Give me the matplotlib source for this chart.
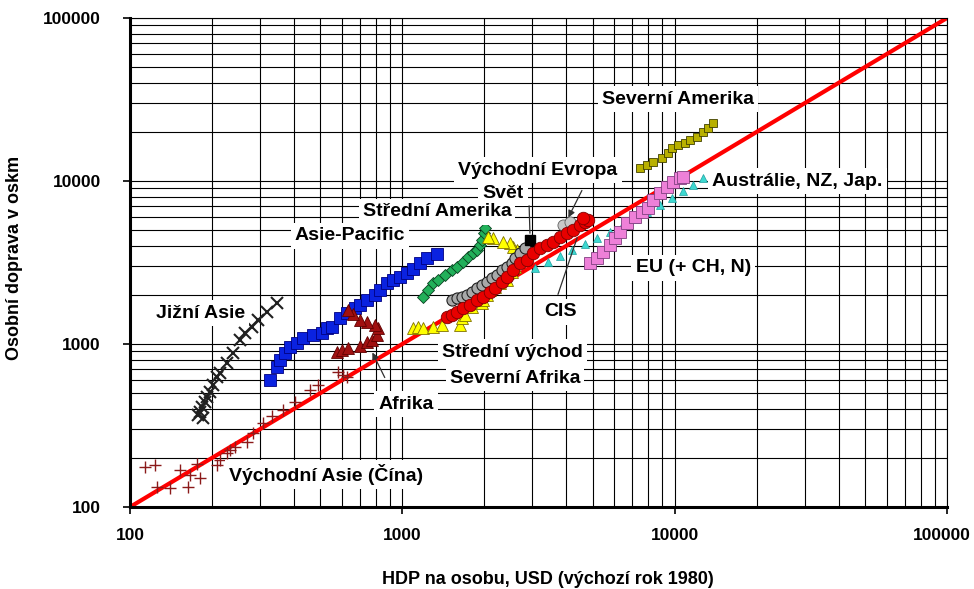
import matplotlib
matplotlib.use("Agg")
import matplotlib.pyplot as plt
import matplotlib.transforms as mtransforms
from matplotlib.ticker import LogLocator, NullFormatter

plt.rcParams['font.family'] = ['Liberation Sans', 'DejaVu Sans']
plt.rcParams['font.weight'] = 'bold'

# ---- data (GDP per capita USD, passenger-km per capita) ----
south_asia_x = [178, 185, 184, 192, 197, 202, 209, 214, 227, 239, 254, 264, 280, 295, 318, 346, 181, 188]
south_asia_y = [367, 352, 411, 473, 508, 560, 628, 664, 765, 881, 1059, 1168, 1271, 1403, 1572, 1786, 380, 440]

east_asia_x = [113.5, 123.5, 125.6, 140, 152.6, 163, 166, 176, 181, 209, 214, 227, 233, 243, 269, 283,
               308, 332, 365, 404, 458, 490, 580, 606, 626]
east_asia_y = [176, 181, 133, 131, 169, 133, 157, 184, 151, 181, 194, 214, 224, 233, 250, 284,
               328, 362, 394, 441, 522, 560, 673, 645, 628]

asia_pac_x = [327, 347, 356, 371, 387, 411, 432, 470, 507, 529, 552, 590, 626, 670, 699, 742, 794,
              828, 879, 924, 981, 1040, 1095, 1161, 1233, 1341]
asia_pac_y = [601, 722, 798, 881, 959, 1014, 1089, 1136, 1168, 1253, 1271, 1445, 1549, 1663, 1735,
              1862, 2000, 2144, 2366, 2471, 2577, 2729, 2884, 3141, 3373, 3565]

africa_x = [576, 601, 632, 699, 742, 774, 807, 814, 794, 742, 699, 659, 632]
africa_y = [893, 919, 945, 972, 1028, 1059, 1136, 1253, 1309, 1365, 1403, 1528, 1618]

central_am_x = [1191, 1243, 1297, 1352, 1435, 1523, 1588, 1671, 1742, 1820, 1880, 1928, 1963, 1995, 2014]
central_am_y = [1942, 2144, 2366, 2471, 2649, 2844, 2968, 3184, 3420, 3614, 3776, 4049, 4345, 4797, 5152]

mideast_x = [1095, 1142, 1191, 1297, 1400, 1629, 1656, 1698, 1803, 1963, 1977, 2046, 2099, 2188,
             2286, 2427, 2531, 2594, 2661, 2704, 2637, 2553, 2489, 2344, 2153, 2065]
mideast_y = [1253, 1271, 1253, 1271, 1309, 1309, 1445, 1507, 1687, 1786, 1862, 2000, 2144, 2239,
             2366, 2471, 2767, 2968, 3184, 3420, 3776, 3936, 4169, 4227, 4467, 4529]

world_x = [1523, 1588, 1656, 1729, 1803, 1880, 1963, 2046, 2133, 2228, 2323, 2427, 2531, 2594, 2704, 2825]
world_y = [1862, 1916, 1942, 2000, 2084, 2208, 2301, 2399, 2541, 2649, 2844, 2968, 3141, 3373, 3614, 3882]
world_last_x = [2944]
world_last_y = [4345]

cis_x = [1459, 1523, 1588, 1671, 1773, 1880, 1977, 2099, 2188, 2323, 2427, 2553, 2704, 2871, 3020,
         3206, 3396, 3573, 3793, 4027, 4236, 4498, 4688, 4808, 4613]
cis_y = [1465, 1507, 1572, 1663, 1735, 1862, 1942, 2084, 2208, 2399, 2577, 2844, 3141, 3273, 3614,
         3882, 4049, 4227, 4529, 4797, 5000, 5370, 5600, 5766, 5929]

east_eu_x = [3890, 4130]
east_eu_y = [5370, 5600]

aus_x = [3069, 3430, 3793, 4198, 4688, 5188, 5794, 6412, 7161, 7925, 8837, 9775, 10740, 11690, 12710]
aus_y = [2926, 3184, 3467, 3776, 4105, 4467, 4864, 5297, 5848, 6457, 7129, 7870, 8690, 9441, 10430]

eu_x = [4887, 5188, 5458, 5794, 6040, 6310, 6684, 7161, 7586, 7980, 8337, 8837, 9376, 9863, 10470, 10740]
eu_y = [3141, 3373, 3664, 4049, 4467, 4864, 5524, 6013, 6457, 6823, 7638, 8433, 9183, 9863, 10430, 10590]

north_am_x = [7464, 7925, 8337, 8990, 9462, 9775, 10300, 10920, 11400, 12080, 12710, 13270, 13840]
north_am_y = [12020, 12530, 13090, 13840, 14860, 15920, 16630, 17100, 17860, 18620, 20000, 21150, 22700]

parity_x = [100, 100000]
parity_y = [100, 100000]

tick_values = [100, 1000, 10000, 100000]
tick_labels = ["100", "1000", "10000", "100000"]

# ---- figure ----
fig = plt.figure(figsize=(9.74, 5.89), dpi=100)
ax = fig.add_axes([130/974, 1-507/589, 817/974, 489/589])
ax.set_xscale('log')
ax.set_yscale('log')
ax.set_xlim(100, 100000)
ax.set_ylim(100, 100000)

ax.xaxis.set_minor_locator(LogLocator(base=10, subs=range(2, 10), numticks=50))
ax.yaxis.set_minor_locator(LogLocator(base=10, subs=range(2, 10), numticks=50))
ax.xaxis.set_minor_formatter(NullFormatter())
ax.yaxis.set_minor_formatter(NullFormatter())
ax.set_xticks(tick_values)
ax.set_yticks(tick_values)
ax.set_xticklabels(tick_labels)
ax.set_yticklabels(tick_labels)
ax.grid(True, which='both', color='black', linewidth=0.8, zorder=0)
ax.set_axisbelow(True)
ax.tick_params(which='major', direction='out', length=5, width=1.2, labelsize=12.5)
ax.tick_params(axis='y', which='major', pad=16)
ax.tick_params(axis='x', which='major', pad=10)
ax.tick_params(which='minor', length=0)
for lab in ax.get_xticklabels() + ax.get_yticklabels():
    lab.set_fontweight('bold')
# nudge last x tick label inward so it stays within the canvas
last = ax.get_xticklabels()[-1]
last.set_transform(last.get_transform() + mtransforms.ScaledTranslation(-5/100, 0, fig.dpi_scale_trans))
for s in ['left', 'bottom']:
    ax.spines[s].set_linewidth(2.2)
for s in ['top', 'right']:
    ax.spines[s].set_linewidth(0.8)

ms = dict(linestyle='none', zorder=3)
ax.plot(east_asia_x, east_asia_y, marker='+', color='#8B1A1A', markersize=8, mew=1.0, **ms)
ax.plot(south_asia_x, south_asia_y, marker='x', color='#202020', markersize=8, mew=1.5, **ms)
ax.plot(asia_pac_x, asia_pac_y, marker='s', mfc='#0a22e0', mec='#000080', markersize=8, mew=0.6, **ms)
ax.plot(africa_x, africa_y, marker='^', mfc='#A01010', mec='#600000', markersize=9, mew=0.6, **ms)
ax.plot(central_am_x, central_am_y, marker='D', mfc='#22B05A', mec='#0a4020', markersize=6, mew=0.6, **ms)
ax.plot(mideast_x, mideast_y, marker='^', mfc='#FFFF00', mec='#807000', markersize=8, mew=0.6, **ms)
ax.plot(world_x, world_y, marker='o', mfc='#A8A8A8', mec='#202020', markersize=8, mew=0.8, **ms)
ax.plot(world_last_x, world_last_y, marker='s', mfc='black', mec='black', markersize=7, **ms)
ax.plot(aus_x, aus_y, marker='^', mfc='#3CD8D0', mec='#20A0A0', markersize=6, mew=0.5, **ms)
ax.plot(eu_x, eu_y, marker='s', mfc='#EE80D8', mec='#804080', markersize=8, mew=0.6, **ms)
ax.plot(east_eu_x, east_eu_y, marker='o', mfc='#C8C8C8', mec='#606060', markersize=8, mew=0.6, **ms)
ax.plot(cis_x, cis_y, marker='o', mfc='#E80000', mec='#800000', markersize=9, mew=0.6, **ms)
ax.plot(north_am_x, north_am_y, marker='s', mfc='#B8B000', mec='#404000', markersize=6, mew=0.6, **ms)
ax.plot(parity_x, parity_y, color='#FF0000', linewidth=3, zorder=2)

box = dict(facecolor='white', edgecolor='none', pad=3)
labels = [
    ("Severní Amerika", 10290, 31840, 'center'),
    ("Východní Evropa", 3150, 11680, 'center'),
    ("Svět", 2344, 8433, 'center'),
    ("Austrálie, NZ, Jap.", 13720, 10000, 'left'),
    ("Střední Amerika", 1341, 6457, 'center'),
    ("Asie-Pacific", 643, 4600, 'center'),
    ("EU (+ CH, N)", 11690, 2926, 'center'),
    ("Jižní Asie", 182, 1549, 'center'),
    ("CIS", 3793, 1572, 'center'),
    ("Střední východ", 2531, 893, 'center'),
    ("Severní Afrika", 2594, 618, 'center'),
    ("Afrika", 1032, 428, 'center'),
    ("Východní Asie (Čína)", 525, 159, 'center'),
]
for txt, x, y, ha in labels:
    ax.text(x, y, txt, ha=ha, va='center', fontsize=14, fontweight='bold', bbox=box, zorder=4)

arrow = dict(arrowstyle='-|>', color='#303030', lw=0.9, mutation_scale=10)
line = dict(arrowstyle='-', color='#303030', lw=0.9)
ax.annotate("", xy=(4027, 5766), xytext=(4613, 9057), arrowprops=arrow, zorder=5)
ax.annotate("", xy=(2944, 4600), xytext=(2919, 7330), arrowprops=line, zorder=5)
ax.annotate("", xy=(4420, 4667), xytext=(3700, 1942), arrowprops=line, zorder=5)
ax.annotate("", xy=(768, 919), xytext=(871, 601), arrowprops=arrow, zorder=5)

fig.text(548/974, 1-579/589, "HDP na osobu, USD (výchozí rok 1980)", ha='center', va='center',
         fontsize=13, fontweight='bold')
fig.text(15/974, 1-258/589, "Osobní doprava v oskm", ha='center', va='center', rotation=90,
         fontsize=13, fontweight='bold')

fig.savefig("out.png", dpi=100)
